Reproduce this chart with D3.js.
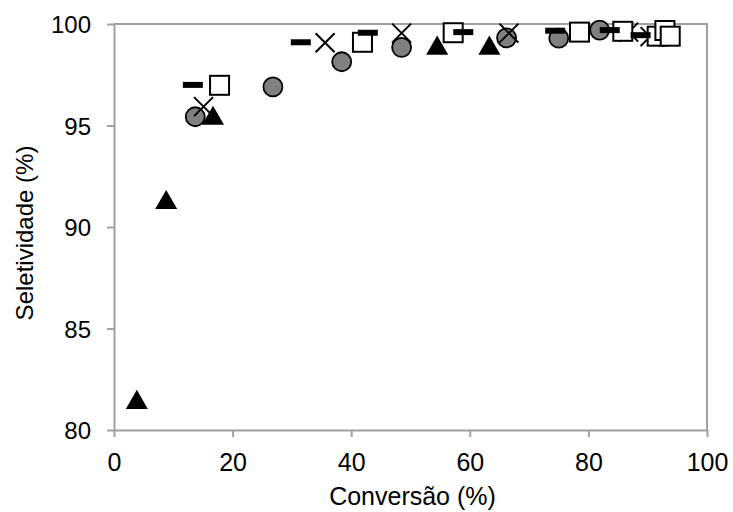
<!DOCTYPE html>
<html>
<head>
<meta charset="utf-8">
<script src="https://cdn.jsdelivr.net/npm/d3@7.9.0/dist/d3.min.js"></script>
<style>
  body { margin: 0; background: #fff; }
  svg text { font-family: "Liberation Sans", Arial, sans-serif; fill: #000; }
</style>
</head>
<body>
<svg id="chart" width="733" height="512"></svg>
<script>
// series (conversion %, selectivity %)
const circleX = [13.7, 26.8, 38.4, 48.5, 66.2, 75.0, 81.9];
const circleY = [95.43, 96.9, 98.14, 98.85, 99.32, 99.3, 99.7];

const triangleX = [3.85, 8.8, 16.7, 54.5, 63.3];
const triangleY = [81.5, 91.35, 95.5, 98.95, 98.95];

const crossX = [15.1, 35.6, 48.5, 66.6, 78.5, 86.8, 90.4];
const crossY = [95.93, 99.08, 99.55, 99.55, 99.6, 99.6, 99.38];

const squareX = [17.8, 41.9, 57.2, 78.5, 85.8, 91.6, 92.9, 93.8];
const squareY = [96.98, 99.1, 99.57, 99.6, 99.64, 99.4, 99.68, 99.4];

const dashX = [13.3, 31.5, 42.8, 58.9, 74.4, 83.6, 88.8];
const dashY = [97.0, 99.1, 99.57, 99.6, 99.67, 99.7, 99.45];

const xTicks = [0, 20, 40, 60, 80, 100];
const yTicks = [80, 85, 90, 95, 100];

const svg = d3.select('#chart');
const margin = { top: 24, right: 26, bottom: 82, left: 114 };
const width = 733 - margin.left - margin.right;
const height = 512 - margin.top - margin.bottom;

const x = d3.scaleLinear().domain([0, 100]).range([0, width]);
const y = d3.scaleLinear().domain([80, 100]).range([height, 0]);

const g = svg.append('g').attr('transform', `translate(${margin.left},${margin.top})`);

const axisColor = '#a0a0a0';

// frame (top + right)
g.append('path')
  .attr('d', `M0,0H${width}V${height}`)
  .attr('fill', 'none')
  .attr('stroke', axisColor)
  .attr('stroke-width', 2);

const xAxis = g.append('g')
  .attr('transform', `translate(0,${height})`)
  .call(d3.axisBottom(x).tickValues(xTicks).tickSize(7).tickSizeOuter(0).tickPadding(16));

const yAxis = g.append('g')
  .call(d3.axisLeft(y).tickValues(yTicks).tickSize(7).tickSizeOuter(0).tickPadding(16));

[xAxis, yAxis].forEach(a => {
  a.select('.domain').attr('stroke', axisColor).attr('stroke-width', 2);
  a.selectAll('.tick line').attr('stroke', axisColor).attr('stroke-width', 2);
  a.selectAll('.tick text').attr('fill', '#000')
    .style('font-family', '"Liberation Sans", Arial, sans-serif');
});
xAxis.selectAll('.tick text').attr('font-size', 25);
yAxis.selectAll('.tick text').attr('font-size', 24).attr('dy', '0.36em');

// axis titles
svg.append('text')
  .attr('x', margin.left + width / 2 + 2)
  .attr('y', 505)
  .attr('text-anchor', 'middle')
  .attr('font-size', 25)
  .text('Conversão (%)');

svg.append('text')
  .attr('transform', `translate(33,${margin.top + height / 2 + 6}) rotate(-90)`)
  .attr('text-anchor', 'middle')
  .attr('font-size', 24)
  .text('Seletividade (%)');

const zip = (xs, ys) => xs.map((v, i) => ({ x: v, y: ys[i] }));

// circles
g.append('g').selectAll('circle')
  .data(zip(circleX, circleY))
  .join('circle')
  .attr('cx', d => x(d.x))
  .attr('cy', d => y(d.y))
  .attr('r', 9.5)
  .attr('fill', '#808080')
  .attr('stroke', '#000')
  .attr('stroke-width', 1.8);

// triangles (shifted so the box centre sits on the point)
const triPath = d3.symbol().type(d3.symbolTriangle).size(210)();
g.append('g').selectAll('path')
  .data(zip(triangleX, triangleY))
  .join('path')
  .attr('transform', d => `translate(${x(d.x)},${y(d.y) + 3})`)
  .attr('d', triPath)
  .attr('fill', '#000');

// crosses
const c = 9.5;
g.append('g').selectAll('path')
  .data(zip(crossX, crossY))
  .join('path')
  .attr('transform', d => `translate(${x(d.x)},${y(d.y)})`)
  .attr('d', `M${-c},${-c}L${c},${c}M${-c},${c}L${c},${-c}`)
  .attr('stroke', '#000')
  .attr('stroke-width', 2)
  .attr('fill', 'none');

// open squares
const s = 19;
g.append('g').selectAll('rect')
  .data(zip(squareX, squareY))
  .join('rect')
  .attr('x', d => x(d.x) - s / 2)
  .attr('y', d => y(d.y) - s / 2)
  .attr('width', s)
  .attr('height', s)
  .attr('fill', '#fff')
  .attr('stroke', '#000')
  .attr('stroke-width', 2);

// dashes
g.append('g').selectAll('rect')
  .data(zip(dashX, dashY))
  .join('rect')
  .attr('x', d => x(d.x) - 10)
  .attr('y', d => y(d.y) - 3)
  .attr('width', 20)
  .attr('height', 6)
  .attr('fill', '#000');
</script>
</body>
</html>
